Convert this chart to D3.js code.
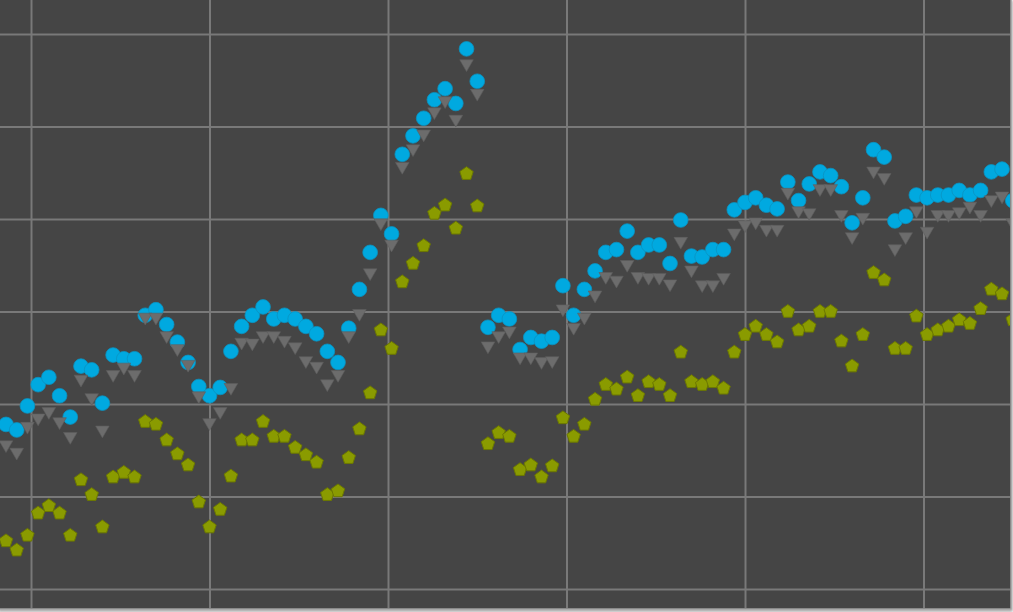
<!DOCTYPE html>
<html>
<head>
<meta charset="utf-8">
<script src="https://cdn.jsdelivr.net/npm/d3@7"></script>
<style>
  html, body { margin: 0; padding: 0; background: #ffffff; }
  svg { display: block; }
</style>
</head>
<body>
<svg id="chart" width="1013" height="612"></svg>
<script>
// x positions (sample number), grid ticks
const xStart = 43, xStep = 3;
const xTicks = [50, 100, 150, 200, 250, 300];
const yTicks = [0, 10, 20, 30, 40, 50, 60];

const seriesCircle = [17.9,17.3,19.9,22.2,23.0,21.0,18.7,24.2,23.8,20.2,25.4,25.0,25.0,29.7,30.3,28.7,
  26.8,24.6,22.0,21.0,21.9,25.8,28.5,29.7,30.6,29.3,29.7,29.3,28.5,27.7,25.8,24.6,28.3,32.5,36.5,40.5,
  38.5,47.1,49.1,51.0,53.0,54.2,52.6,58.5,55.0,28.4,29.7,29.3,26.0,27.3,26.9,27.3,32.9,29.7,32.5,34.5,
  36.5,36.8,38.8,36.5,37.3,37.3,35.3,40.0,36.1,36.0,36.8,36.8,41.1,41.9,42.4,41.6,41.2,44.1,42.1,43.9,
  45.2,44.8,43.6,39.7,42.4,47.6,46.8,39.9,40.4,42.7,42.4,42.7,42.7,43.2,42.7,43.2,45.2,45.5,42.1];

const seriesTriangle = [15.7,14.9,17.7,18.6,19.3,18.2,16.6,22.8,20.8,17.3,23.3,24.1,23.3,29.5,29.5,27.5,
  26.1,24.4,21.0,18.1,19.3,21.9,26.8,26.7,27.5,27.5,27.0,26.3,24.8,24.2,22.3,23.3,27.5,29.9,34.3,39.7,
  37.4,45.8,47.7,49.3,51.7,52.9,50.9,56.9,53.7,26.4,27.5,28.0,25.2,25.2,24.7,24.8,30.4,28.4,29.5,31.9,
  33.9,33.5,35.2,33.9,33.8,33.8,33.1,37.7,34.6,33.0,33.0,33.8,38.6,39.5,39.8,39.0,39.0,43.0,41.0,40.8,
  43.4,43.4,40.6,38.2,40.3,45.3,44.6,36.9,38.2,41.0,38.8,40.6,40.6,40.9,41.5,40.6,42.2,42.6,39.7];

const seriesPentagon = [5.3,4.3,5.9,8.3,9.1,8.3,5.9,11.9,10.3,6.8,12.2,12.7,12.2,18.2,17.9,16.2,
  14.7,13.5,9.5,6.8,8.7,12.3,16.2,16.2,18.2,16.6,16.6,15.4,14.6,13.8,10.3,10.7,14.3,17.4,21.3,28.1,
  26.1,33.3,35.3,37.2,40.7,41.6,39.1,45.0,41.5,15.8,17.0,16.6,13.0,13.5,12.2,13.4,18.6,16.6,17.9,20.6,
  22.2,21.7,23.0,21.0,22.5,22.2,21.0,25.7,22.5,22.2,22.5,21.8,25.7,27.6,28.5,27.6,26.8,30.1,28.1,28.5,
  30.1,30.1,26.9,24.2,27.6,34.3,33.5,26.1,26.1,29.6,27.6,28.1,28.5,29.2,28.8,30.4,32.5,32.0,29.2];

const svg = d3.select("#chart");

const frameRight = 1011, frameBottom = 609;

const x = d3.scaleLinear().domain([50, 300]).range([31, 923.5]);
const y = d3.scaleLinear().domain([0, 60]).range([589, 34]);

const defs = svg.append("defs");
const f = defs.append("filter").attr("id", "sh").attr("x", "-5%").attr("y", "-5%").attr("width", "110%").attr("height", "110%");
f.append("feDropShadow").attr("dx", 1).attr("dy", 2).attr("stdDeviation", 1.5).attr("flood-color", "#000").attr("flood-opacity", 0.35);

svg.append("rect")
  .attr("x", -2).attr("y", -1)
  .attr("width", frameRight + 2).attr("height", frameBottom + 1)
  .attr("fill", "#454545")
  .attr("stroke", "#a0a0a0").attr("stroke-width", 1.5)
  .attr("filter", "url(#sh)");

const clip = defs.append("clipPath").attr("id", "clip");
clip.append("rect").attr("x", 0).attr("y", 0).attr("width", frameRight - 1).attr("height", frameBottom - 1);

const plot = svg.append("g").attr("clip-path", "url(#clip)");

const gx = plot.append("g")
  .attr("transform", `translate(0,${frameBottom})`)
  .call(d3.axisBottom(x).tickValues(xTicks).tickSize(-frameBottom).tickFormat(""));
const gy = plot.append("g")
  .call(d3.axisLeft(y).tickValues(yTicks).tickSize(-frameRight).tickFormat(""));
[gx, gy].forEach(g => {
  g.select(".domain").remove();
  g.selectAll(".tick line").attr("stroke", "#797979").attr("stroke-width", 2);
});

const xVal = i => xStart + xStep * i;

const symbolPentagon = {
  draw(ctx, size) {
    const r = Math.sqrt(size / 2.3776);
    for (let k = 0; k < 5; k++) {
      const a = -Math.PI / 2 + k * 2 * Math.PI / 5;
      const px = r * Math.cos(a), py = r * Math.sin(a);
      if (k === 0) ctx.moveTo(px, py); else ctx.lineTo(px, py);
    }
    ctx.closePath();
  }
};

plot.append("g").selectAll("path")
  .data(seriesCircle)
  .join("path")
  .attr("transform", (d, i) => `translate(${x(xVal(i))},${y(d) + 1})`)
  .attr("d", d3.symbol().type(d3.symbolCircle).size(170))
  .attr("fill", "#00a9e0")
  .attr("stroke", "#0a93c2").attr("stroke-width", 0.8);

plot.append("g").selectAll("path")
  .data(seriesPentagon)
  .join("path")
  .attr("transform", (d, i) => `translate(${x(xVal(i))},${y(d) + 1})`)
  .attr("d", d3.symbol().type(symbolPentagon).size(118))
  .attr("fill", "#8a9b00")
  .attr("stroke", "#6c7800").attr("stroke-width", 1);

plot.append("g").selectAll("path")
  .data(seriesTriangle)
  .join("path")
  .attr("transform", (d, i) => `translate(${x(xVal(i))},${y(d) + 1}) rotate(180)`)
  .attr("d", d3.symbol().type(d3.symbolTriangle).size(80))
  .attr("fill", "#6c6c6c")
  .attr("stroke", "#5e5e5e").attr("stroke-width", 0.6);
</script>
</body>
</html>
